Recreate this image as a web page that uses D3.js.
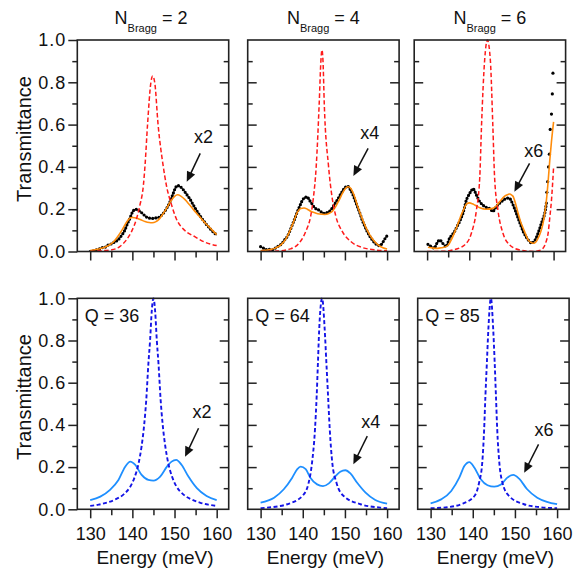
<!DOCTYPE html>
<html><head><meta charset="utf-8">
<script src="https://cdn.jsdelivr.net/npm/d3@7"></script>
<style>
html,body{margin:0;padding:0;background:#fff;}
svg{display:block;}
text{font-family:"Liberation Sans",Arial,Helvetica,sans-serif;fill:#111;}
</style></head><body>
<svg id="chart" width="580" height="570"></svg>
<script>
// ---------- labels ----------
const nBragg = [2, 4, 6];
const qValues = [36, 64, 85];
const scaleLabels = ["x2", "x4", "x6"];
const energyTicks = [130, 140, 150, 160];
const energyMinor = [135, 145, 155];
const transTicks = [0, 0.2, 0.4, 0.6, 0.8, 1.0];
const transMinor = [0.1, 0.3, 0.5, 0.7, 0.9];

// ---------- top row: measured (black dots), fit (orange), reference (red dashed) ----------
const exp2 = [[130.0,0.0],[130.8,0.004],[131.5,0.008],[132.2,0.012],[132.8,0.018],[133.5,0.02],[134.2,0.03],[135.0,0.036],[135.8,0.045],[136.6,0.055],[137.4,0.075],[138.2,0.10],[138.8,0.13],[139.4,0.156],[140.0,0.185],[140.7,0.20],[141.3,0.196],[141.8,0.19],[142.5,0.178],[143.2,0.165],[144.0,0.158],[144.5,0.156],[145.3,0.158],[146.0,0.16],[146.5,0.164],[147.1,0.175],[147.7,0.19],[148.3,0.21],[148.9,0.234],[149.6,0.27],[150.2,0.30],[150.7,0.312],[151.3,0.308],[152.0,0.294],[152.8,0.272],[153.6,0.25],[154.4,0.222],[155.2,0.195],[156.0,0.17],[156.8,0.148],[157.6,0.127],[158.4,0.109],[159.2,0.092],[160.0,0.078]];
const fit2 = [[130,0.005],[132,0.012],[134,0.025],[135.5,0.045],[136.5,0.07],[137.5,0.1],[138.5,0.135],[139.3,0.155],[140,0.161],[141,0.158],[142,0.15],[143,0.142],[144,0.137],[144.7,0.136],[145.5,0.14],[146.3,0.152],[147,0.17],[148,0.2],[149,0.235],[150,0.26],[150.7,0.268],[151.5,0.262],[152.5,0.245],[153.5,0.222],[154.5,0.198],[155.5,0.175],[156.5,0.152],[157.5,0.13],[158.5,0.11],[159.3,0.094],[160,0.08]];
const ref2 = [[130,0],[132,0.003],[135.1,0.008],[137,0.023],[138.6,0.055],[139.8,0.094],[141,0.156],[141.8,0.22],[142.6,0.31],[143,0.406],[143.6,0.6],[144.4,0.8],[144.8,0.83],[145.3,0.8],[146.1,0.6],[147.3,0.406],[148.1,0.31],[149.3,0.22],[150.4,0.156],[152.4,0.10],[154.8,0.07],[157.2,0.044],[160,0.028]];

const exp4 = [[130,0.023],[130.5,0.018],[131,0.012],[131.6,0.008],[132.2,0.01],[132.8,0.008],[133.4,0.015],[134,0.023],[134.6,0.03],[135.1,0.039],[135.7,0.055],[136.3,0.07],[136.9,0.095],[137.5,0.125],[138.1,0.155],[138.7,0.1875],[139.3,0.215],[139.9,0.242],[140.5,0.255],[141.1,0.258],[141.5,0.245],[141.9,0.234],[142.3,0.222],[142.7,0.21],[143.3,0.2],[143.9,0.195],[144.5,0.185],[145,0.18],[145.6,0.183],[146.2,0.1875],[146.8,0.2],[147.4,0.219],[148,0.238],[148.6,0.258],[149.2,0.278],[149.8,0.297],[150.6,0.309],[151.2,0.295],[151.8,0.273],[152.4,0.242],[153,0.21],[153.6,0.178],[154.1,0.148],[154.7,0.12],[155.3,0.094],[155.9,0.072],[156.5,0.055],[157.1,0.04],[157.7,0.031],[158.1,0.028],[158.5,0.031],[158.9,0.04],[159.3,0.055],[159.7,0.066],[160.1,0.078]];
const fit4 = [[130,0.004],[132,0.008],[133.5,0.016],[135,0.035],[136,0.06],[137,0.1],[138,0.15],[138.7,0.185],[139.5,0.203],[140.3,0.206],[141.1,0.2],[141.9,0.19],[143,0.182],[144,0.177],[145.2,0.175],[146.2,0.18],[147,0.19],[147.8,0.212],[148.6,0.242],[149.4,0.275],[150.2,0.3],[150.8,0.306],[151.4,0.298],[152.2,0.265],[153,0.215],[154,0.16],[155.3,0.1],[156.5,0.06],[157.7,0.034],[159,0.018],[160,0.012]];
const ref4 = [[130,0],[134,0.002],[137.1,0.0125],[139.1,0.039],[140.7,0.094],[141.9,0.17],[142.5,0.25],[143.2,0.406],[143.9,0.7],[144.3,0.9],[144.55,0.953],[144.8,0.9],[145.1,0.7],[146.1,0.406],[147,0.25],[147.8,0.17],[149.4,0.094],[151.4,0.047],[154.1,0.019],[156.9,0.008],[160,0.003]];

const exp6 = [[130.2,0.034],[130.6,0.028],[131,0.023],[131.4,0.018],[131.7,0.015],[132.1,0.03],[132.5,0.046],[132.8,0.052],[133.1,0.054],[133.4,0.047],[133.7,0.039],[134.1,0.03],[134.5,0.023],[134.9,0.04],[135.3,0.062],[135.9,0.078],[136.5,0.094],[137.1,0.118],[137.7,0.141],[138.1,0.16],[138.5,0.18],[138.9,0.21],[139.3,0.243],[139.7,0.26],[140.1,0.275],[140.5,0.288],[140.9,0.298],[141.3,0.285],[141.7,0.267],[142.1,0.25],[142.5,0.235],[143.1,0.222],[143.7,0.212],[144.3,0.206],[144.8,0.204],[145.2,0.196],[145.6,0.188],[146,0.2],[146.4,0.212],[147,0.225],[147.6,0.235],[148.2,0.245],[148.8,0.251],[149.2,0.253],[149.6,0.251],[150,0.238],[150.4,0.22],[151,0.19],[151.6,0.157],[152.2,0.125],[152.8,0.094],[153.4,0.072],[154,0.054],[154.4,0.045],[154.8,0.039],[155.2,0.045],[155.6,0.054],[156,0.07],[156.3,0.086],[156.7,0.108],[157.1,0.133],[157.5,0.155],[157.9,0.18],[158.3,0.23]];
const exp6Tail = [[158.4,0.28],[158.6,0.33],[158.8,0.4],[159.0,0.46],[159.2,0.577],[159.5,0.65],[159.7,0.745],[159.85,0.843]];
const fit6 = [[130.2,0.02],[131.5,0.016],[132.5,0.015],[133.5,0.018],[134.5,0.023],[135.2,0.035],[135.7,0.054],[136.3,0.08],[136.9,0.11],[137.5,0.14],[138.1,0.173],[138.7,0.2],[139.3,0.224],[140.1,0.23],[140.7,0.226],[141.3,0.22],[142.5,0.207],[144,0.2],[145.6,0.204],[146.4,0.215],[147.2,0.235],[148.4,0.262],[149.2,0.27],[149.6,0.272],[150.1,0.266],[150.4,0.26],[151,0.225],[151.6,0.18],[152.2,0.14],[152.8,0.11],[153.4,0.08],[154,0.054],[154.6,0.043],[155.2,0.039],[155.8,0.045],[156.3,0.062],[156.9,0.09],[157.5,0.133],[157.9,0.18],[158.3,0.243],[158.7,0.33],[159.1,0.432],[159.5,0.52],[160,0.613]];
const ref6 = [[130,0],[134,0.001],[136.1,0.007],[138.9,0.031],[140.5,0.086],[141.7,0.196],[142.5,0.354],[142.9,0.59],[143.65,0.905],[144.3,1.0],[145,0.905],[145.6,0.59],[146,0.354],[146.8,0.196],[148,0.086],[149.6,0.031],[152,0.007],[155.2,0.0],[156.5,0.004],[157.5,0.015],[158.2,0.045],[158.7,0.086],[159.1,0.16],[159.5,0.243],[160,0.398]];

// ---------- bottom row: cavity (blue dashed), coupled (light blue) ----------
const cav36 = [[130,0.016],[132,0.022],[134,0.032],[136,0.047],[138,0.072],[139.5,0.107],[140.5,0.15],[141.5,0.22],[142.2,0.3],[142.8,0.4],[143.3,0.52],[143.8,0.69],[144.2,0.8],[144.6,0.94],[145,1.0],[145.4,0.94],[145.8,0.8],[146.2,0.69],[146.7,0.52],[147.2,0.4],[147.8,0.3],[148.5,0.22],[149.5,0.15],[150.5,0.107],[152,0.072],[154,0.047],[156,0.032],[158,0.022],[160,0.016]];
const pol36 = [[130,0.044],[132.4,0.06],[134.7,0.092],[136.7,0.139],[138.3,0.202],[139.5,0.226],[140.7,0.21],[142.2,0.163],[143.8,0.139],[145,0.136],[146.6,0.155],[148.2,0.202],[149.3,0.226],[150.4,0.234],[151.7,0.21],[153.3,0.155],[155.3,0.1],[157.6,0.063],[160,0.044]];
const cav64 = [[130,0.005],[131.6,0.008],[136.3,0.024],[139.9,0.063],[141.4,0.126],[142.2,0.221],[142.9,0.379],[143.3,0.537],[143.6,0.695],[143.9,0.853],[144.6,1.0],[145.2,0.853],[145.6,0.695],[146,0.537],[146.4,0.379],[147,0.221],[148,0.126],[149.7,0.063],[153.7,0.024],[158.4,0.008],[160,0.005]];
const pol64 = [[130,0.032],[133.2,0.055],[135.5,0.095],[137.5,0.15],[138.7,0.19],[139.5,0.202],[140.7,0.19],[141.8,0.15],[143.4,0.118],[144.8,0.11],[146.2,0.123],[147.8,0.158],[148.9,0.178],[150.1,0.185],[151.3,0.17],[152.9,0.126],[154.9,0.079],[157.2,0.044],[160,0.027]];
const cav85 = [[130,0.005],[134,0.01],[137.2,0.024],[140.4,0.063],[141.5,0.126],[142.25,0.221],[142.7,0.379],[143,0.537],[143.35,0.695],[143.7,0.853],[144.3,1.0],[144.85,0.853],[145.2,0.695],[145.5,0.537],[145.8,0.379],[146.3,0.221],[147.05,0.126],[148.6,0.063],[152.15,0.024],[156,0.01],[160,0.005]];
const pol85 = [[130,0.028],[132.5,0.047],[134.9,0.087],[136.8,0.15],[138,0.205],[139.2,0.224],[140.4,0.197],[141.9,0.142],[143.5,0.114],[145.1,0.107],[146.7,0.118],[148.2,0.15],[149.6,0.163],[151,0.145],[152.9,0.095],[155.3,0.055],[157.6,0.035],[160,0.024]];

// ---------- annotation anchors (data units) ----------
const topLabelPos = [[156.9,0.512],[155.9,0.53],[155.3,0.448]];
const topArrowPos = [[156.1,0.464,152.9,0.33],[155.5,0.488,152.0,0.357],[154.3,0.417,150.7,0.283]];
const botLabelPos = [[156.5,0.431],[156.1,0.387],[156.9,0.347]];
const botArrowPos = [[155.7,0.384,152.5,0.249],[155.3,0.347,152.0,0.213],[155.6,0.308,152.2,0.173]];

const topSeries = [[exp2,fit2,ref2,null],[exp4,fit4,ref4,null],[exp6,fit6,ref6,exp6Tail]];
const botSeries = [[cav36,pol36],[cav64,pol64],[cav85,pol85]];

// ---------- layout ----------
const svg = d3.select("#chart");
const W = 151.4;
const rows = [
  {top:40, bottom:251.5, lefts:[77.3,247.7,414.2]},
  {top:298.3, bottom:509.3, lefts:[77.3,247.7,417.7]}
];
const xDomain = [126.94, 162.85];
const ink = "#222";

function mkLine(x,y){ return d3.line().x(d=>x(d[0])).y(d=>y(d[1])).curve(d3.curveMonotoneX); }

function styleAxis(g){
  g.select(".domain").remove();
  g.selectAll(".tick line").attr("stroke",ink).attr("stroke-width",1.5);
  g.selectAll("text").attr("font-size","18px").attr("fill","#111")
   .attr("font-family",'"Liberation Sans",Arial,sans-serif');
}

function arrow(g,x,y,a){
  const x1=x(a[0]), y1=y(a[1]), x2=x(a[2]), y2=y(a[3]);
  const dx=x2-x1, dy=y2-y1, L=Math.hypot(dx,dy), ux=dx/L, uy=dy/L;
  const hl=10, hw=4.5;
  const bx=x2-ux*hl, by=y2-uy*hl;
  g.append("line").attr("x1",x1).attr("y1",y1).attr("x2",bx+ux*1).attr("y2",by+uy*1)
    .attr("stroke","#111").attr("stroke-width",1.5);
  g.append("path").attr("d",`M${x2},${y2}L${bx-uy*hw},${by+ux*hw}L${bx+uy*hw},${by-ux*hw}Z`).attr("fill","#111");
}

rows.forEach((row,r)=>{
  row.lefts.forEach((left,c)=>{
    const x = d3.scaleLinear().domain(xDomain).range([left,left+W]);
    const y = d3.scaleLinear().domain([0,1]).range([row.bottom,row.top]);
    const g = svg.append("g");
    const clipId = `clip${r}${c}`;
    svg.append("clipPath").attr("id",clipId).append("rect")
      .attr("x",left).attr("y",row.top-1).attr("width",W).attr("height",row.bottom-row.top+1);
    const plot = g.append("g").attr("clip-path",`url(#${clipId})`);
    const line = mkLine(x,y);

    if(r===0){
      const [ex,fit,ref,tail] = topSeries[c];
      plot.append("path").attr("d",line(ex)).attr("fill","none").attr("stroke","#000")
        .attr("stroke-width",1.0);
      plot.append("path").attr("d",line(ex)).attr("fill","none").attr("stroke","#000")
        .attr("stroke-width",3.2).attr("stroke-linecap","round").attr("stroke-dasharray","0 3.2");
      if(tail){
        plot.selectAll("circle.tail").data(tail).enter().append("circle")
          .attr("cx",d=>x(d[0])).attr("cy",d=>y(d[1])).attr("r",1.6).attr("fill","#000");
      }
      plot.append("path").attr("d",line(fit)).attr("fill","none").attr("stroke","#ff8c0a")
        .attr("stroke-width",1.6);
      plot.append("path").attr("d",line(ref)).attr("fill","none").attr("stroke","#ff1a1a")
        .attr("stroke-width",1.5).attr("stroke-dasharray","4.5 2.5");
    } else {
      const [cav,pol] = botSeries[c];
      plot.append("path").attr("d",line(pol)).attr("fill","none").attr("stroke","#1e8fff")
        .attr("stroke-width",1.8);
      plot.append("path").attr("d",line(cav)).attr("fill","none").attr("stroke","#1414e6")
        .attr("stroke-width",1.9).attr("stroke-dasharray","4 2.5");
    }

    // frame
    g.append("rect").attr("x",left).attr("y",row.top).attr("width",W).attr("height",row.bottom-row.top)
      .attr("fill","none").attr("stroke",ink).attr("stroke-width",1.6);

    // bottom axis (outward)
    const bx = g.append("g").attr("transform",`translate(0,${row.bottom})`)
      .call(d3.axisBottom(x).tickValues(energyTicks).tickSize(9).tickFormat(r===1?d3.format("d"):()=>""));
    styleAxis(bx);
    bx.selectAll("text").attr("y",31).attr("dy","0");
    const bxm = g.append("g").attr("transform",`translate(0,${row.bottom})`)
      .call(d3.axisBottom(x).tickValues(energyMinor).tickSize(6).tickFormat(()=>""));
    styleAxis(bxm);

    // left axis
    if(c===0){
      const ly = g.append("g").attr("transform",`translate(${left},0)`)
        .call(d3.axisLeft(y).tickValues(transTicks).tickSize(9).tickPadding(2).tickFormat(d3.format(".1f")));
      styleAxis(ly);
      ly.selectAll("text").attr("letter-spacing","1px");
      const lym = g.append("g").attr("transform",`translate(${left},0)`)
        .call(d3.axisLeft(y).tickValues(transMinor).tickSize(5).tickFormat(()=>""));
      styleAxis(lym);
    } else {
      const ly = g.append("g").attr("transform",`translate(${left},0)`)
        .call(d3.axisRight(y).tickValues(transTicks.slice(1,-1)).tickSize(9).tickFormat(()=>""));
      styleAxis(ly);
      const lym = g.append("g").attr("transform",`translate(${left},0)`)
        .call(d3.axisRight(y).tickValues(transMinor).tickSize(5).tickFormat(()=>""));
      styleAxis(lym);
    }
    // right axis (inward)
    const ry = g.append("g").attr("transform",`translate(${left+W},0)`)
      .call(d3.axisLeft(y).tickValues(transTicks.slice(1,-1)).tickSize(9).tickFormat(()=>""));
    styleAxis(ry);
    const rym = g.append("g").attr("transform",`translate(${left+W},0)`)
      .call(d3.axisLeft(y).tickValues(transMinor).tickSize(5).tickFormat(()=>""));
    styleAxis(rym);

    // annotations
    const lp = r===0 ? topLabelPos[c] : botLabelPos[c];
    g.append("text").attr("x",x(lp[0])).attr("y",y(lp[1])).attr("text-anchor","middle")
      .attr("font-size","18px").text(scaleLabels[c]);
    arrow(g,x,y, r===0 ? topArrowPos[c] : botArrowPos[c]);

    if(r===0){
      const t = svg.append("text").attr("x",left+W/2 - (c===0?2:0)).attr("y",23.5).attr("text-anchor","middle")
        .attr("font-size","18px");
      t.append("tspan").text("N");
      t.append("tspan").attr("font-size","11px").attr("dy",8).text("Bragg");
      t.append("tspan").attr("dy",-8).text(" = " + nBragg[c]);
    } else {
      g.append("text").attr("x",left+7.5).attr("y",row.top+23.4).attr("font-size","18px")
        .text("Q = " + qValues[c]);
      svg.append("text").attr("x",left+W/2+2).attr("y",564).attr("text-anchor","middle")
        .attr("font-size","19px").text("Energy (meV)");
    }
  });
  svg.append("text").attr("transform",`translate(31,${r===0?139:397}) rotate(-90)`)
    .attr("text-anchor","middle").attr("font-size","20px").text("Transmittance");
});
</script>
</body></html>
